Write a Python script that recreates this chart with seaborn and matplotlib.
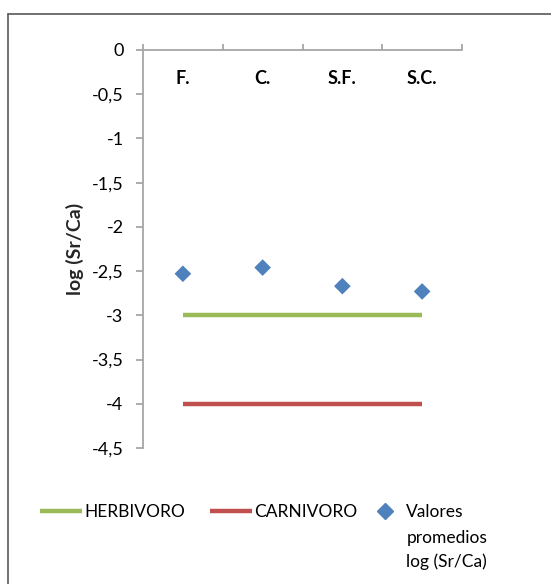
import numpy as np
import pandas as pd
import matplotlib
matplotlib.use('Agg')
import matplotlib.pyplot as plt
import seaborn as sns
from matplotlib.lines import Line2D
from matplotlib.ticker import FuncFormatter

categorias = ['F.', 'C.', 'S.F.', 'S.C.']
valores = [-2.53, -2.46, -2.67, -2.73]
herbivoro = [-3.0, -3.0, -3.0, -3.0]
carnivoro = [-4.0, -4.0, -4.0, -4.0]
y_ticks = [0, -0.5, -1, -1.5, -2, -2.5, -3, -3.5, -4, -4.5]

VERDE = '#9BBB59'
ROJO = '#C0504D'
AZUL = '#4F81BD'
GRIS = '#A6A6A6'

sns.set_theme(style='white')
plt.rcParams['font.family'] = ['Lato', 'DejaVu Sans']
plt.rcParams['text.color'] = 'black'
plt.rcParams['xtick.color'] = 'black'
plt.rcParams['ytick.color'] = 'black'

W, H = 551, 584
fig = plt.figure(figsize=(W / 100, H / 100), dpi=100)
ax = fig.add_axes([143 / W, 1 - 448 / H, (462 - 143) / W, (448 - 50) / H])

df = pd.DataFrame({
    'x': np.arange(len(categorias)),
    'cat': categorias,
    'valor': valores,
    'herb': herbivoro,
    'carn': carnivoro,
})

# reference lines and the mean values
sns.lineplot(data=df, x='x', y='herb', color=VERDE, lw=3.2, ax=ax, solid_capstyle='butt')
sns.lineplot(data=df, x='x', y='carn', color=ROJO, lw=3.2, ax=ax, solid_capstyle='butt')
sns.scatterplot(data=df, x='x', y='valor', marker='D', color=AZUL, s=72,
                edgecolor='none', ax=ax, zorder=3)

ax.set_xlim(-0.5, len(categorias) - 0.5)
ax.set_ylim(-4.5, 0)

# y axis, comma decimals
ax.set_yticks(y_ticks)
ax.yaxis.set_major_formatter(FuncFormatter(lambda v, p: f'{v:g}'.replace('.', ',')))
ax.tick_params(axis='y', left=True, length=5, width=1.3, color=GRIS, pad=9, labelsize=13)

# x axis sits on top (y = 0), labels drawn underneath it
ax.xaxis.set_ticks_position('top')
ax.set_xticks(np.arange(-0.5, len(categorias), 1))
ax.set_xticks(np.arange(len(categorias)), labels=categorias, minor=True)
ax.tick_params(axis='x', which='major', top=True, bottom=False, labeltop=False,
               labelbottom=False, length=4, width=1.3, color=GRIS, direction='out')
ax.tick_params(axis='x', which='minor', top=True, bottom=False, length=0,
               labeltop=True, labelbottom=False, pad=-27, labelsize=13)
for lbl in ax.get_xticklabels(minor=True):
    lbl.set_fontweight('bold')

for s in ['right', 'bottom']:
    ax.spines[s].set_visible(False)
for s in ['left', 'top']:
    ax.spines[s].set_color(GRIS)
    ax.spines[s].set_linewidth(1.3)

ax.set_xlabel('')
ax.set_ylabel('log (Sr/Ca)', fontweight='bold', fontsize=14)
ax.yaxis.set_label_coords(-0.185, 0.5)

# legend
h_lineas = [Line2D([], [], color=VERDE, lw=3.2, solid_capstyle='butt'),
            Line2D([], [], color=ROJO, lw=3.2, solid_capstyle='butt')]
fig.legend(h_lineas, ['HERBIVORO', 'CARNIVORO'], loc='center left',
           bbox_to_anchor=(40 / W, 1 - 512 / H), ncol=2, frameon=False,
           fontsize=12.5, handlelength=2.4, handletextpad=0.15, columnspacing=1.45,
           borderpad=0, borderaxespad=0)
h_punto = [Line2D([], [], marker='D', color=AZUL, ls='none', markersize=8.5)]
leg2 = fig.legend(h_punto, ['Valores'], loc='center left',
                  bbox_to_anchor=(376 / W, 1 - 512 / H), frameon=False,
                  fontsize=12.5, handlelength=1.0, handletextpad=0.75,
                  borderpad=0, borderaxespad=0)

fig.canvas.draw()
x0 = leg2.get_texts()[0].get_window_extent().x0
fig.text(x0, H - 538, 'promedios', transform=None, va='center', ha='left', fontsize=12.5)
fig.text(x0, H - 562, 'log (Sr/Ca)', transform=None, va='center', ha='left', fontsize=12.5)

# chart frame (only left/top edges are inside the picture)
fig.add_artist(Line2D([8 / W, 8 / W], [0, 1 - 14 / H], transform=fig.transFigure,
                      color='#595959', lw=1.2))
fig.add_artist(Line2D([8 / W, 1], [1 - 14 / H, 1 - 14 / H], transform=fig.transFigure,
                      color='#595959', lw=1.2))

fig.savefig('out.png', dpi=100)
